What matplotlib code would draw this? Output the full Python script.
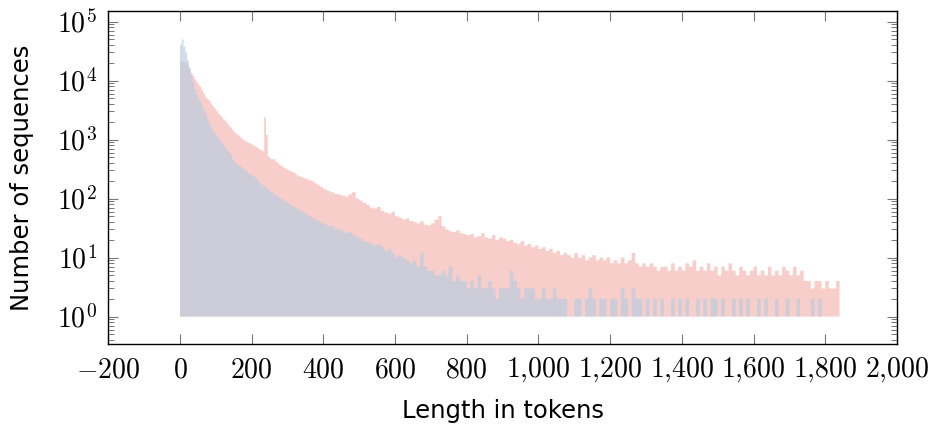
import numpy as np
import matplotlib
matplotlib.use("Agg")
import matplotlib.pyplot as plt
from matplotlib.ticker import FixedLocator, FuncFormatter, LogLocator, NullFormatter

plt.rcParams['mathtext.fontset'] = 'cm'
plt.rcParams['font.family'] = ['DejaVu Sans']
plt.rcParams['path.simplify'] = False

# counts per 5-token bin, 0..400
red_head = [
    21500, 21000, 20500, 20000, 18500, 15500, 13500, 12000, 10500, 9500,
    8600, 7900, 6800, 6000, 5300, 4900, 4600, 4100, 3700, 3400,
    3100, 2800, 2600, 2400, 2200, 2050, 1900, 1750, 1600, 1450,
    1350, 1270, 1190, 1120, 1060, 1000, 950, 910, 880, 850,
    820, 790, 760, 720, 680, 660, 640, 2400, 1200, 520,
    480, 460, 470, 430, 410, 380, 360, 345, 330, 315,
    305, 295, 285, 280, 265, 250, 240, 235, 228, 222,
    218, 212, 205, 200, 195, 185, 175, 168, 160, 155,
]
# counts per 10-token bin, 400..1840
red_tail = [
    145, 135, 128, 120, 118, 112, 108, 118, 128, 100,
    92, 85, 78, 70, 68, 72, 62, 58, 55, 60,
    50, 47, 44, 46, 42, 40, 38, 41, 36, 35,
    38, 44, 50, 34, 30, 28, 27, 29, 26, 25,
    24, 25, 22, 23, 26, 22, 21, 24, 20, 22,
    21, 19, 20, 18, 17, 19, 16, 17, 15, 16,
    14, 15, 13, 14, 12, 13, 11, 12, 11, 10,
    12, 10, 11, 9, 10, 11, 9, 10, 9, 10,
    8, 9, 8, 10, 8, 9, 12, 8, 7, 8,
    7, 8, 7, 6, 7, 7, 6, 8, 6, 7,
    6, 8, 7, 9, 6, 7, 6, 8, 6, 7,
    5, 7, 6, 8, 6, 5, 7, 6, 5, 6,
    7, 5, 6, 5, 7, 5, 6, 5, 7, 6,
    5, 7, 5, 6, 4, 4, 3, 4, 4, 3,
    4, 3, 3, 4,
]

blue_head = [
    40000, 50000, 38000, 30000, 22000, 16500, 12500, 9500, 7200, 5800,
    5000, 4500, 3800, 3200, 2800, 2300, 1900, 1650, 1450, 1300,
    1180, 1050, 970, 880, 800, 730, 670, 610, 560, 470,
    430, 400, 380, 360, 340, 320, 300, 285, 270, 255,
    245, 235, 225, 205, 190, 175, 165, 160, 150, 142,
    135, 128, 120, 115, 110, 105, 100, 96, 92, 88,
    84, 80, 76, 73, 70, 68, 65, 62, 60, 58,
    55, 52, 50, 48, 47, 45, 43, 42, 40, 39,
]
# 10-token bins, 400..1800
blue_tail = [
    37, 34, 35, 31, 30, 28, 26, 27, 24, 22,
    21, 19, 18, 17, 16, 17, 15, 13, 14, 12,
    10, 11, 10, 9, 8, 9, 7, 12, 7, 6,
    6, 5, 5, 6, 5, 7, 4, 5, 4, 4,
    3, 4, 3, 5, 3, 3, 4, 3, 2, 3,
    3, 3, 6, 4, 3, 2, 3, 3, 3, 2,
    2, 3, 2, 2, 3, 2, 2, 2, 1, 1,
    2, 2, 1, 2, 3, 2, 1, 2, 2, 1,
    2, 2, 1, 3, 2, 1, 3, 2, 2, 1,
    2, 1, 2, 1, 2, 1, 1, 2, 1, 2,
    1, 2, 1, 1, 2, 1, 2, 1, 2, 2,
    1, 2, 1, 1, 2, 1, 2, 1, 2, 1,
    1, 2, 1, 2, 1, 1, 2, 1, 1, 2,
    1, 1, 2, 1, 1, 1, 2, 1, 2, 1,
]

x_ticks = list(range(-200, 2001, 200))
y_ticks = [1e0, 1e1, 1e2, 1e3, 1e4, 1e5]


def bins(head, tail):
    counts = np.array(head + tail, dtype=float)
    edges = np.concatenate([np.arange(0, 400, 5),
                            np.arange(400, 400 + 10 * len(tail) + 1, 10)])
    return np.maximum(counts, 1), edges


fig = plt.figure(figsize=(9.31, 4.25), dpi=100)
ax = fig.add_axes([0.1163, 0.1899, 0.8471, 0.7842])

ax.set_yscale('log')
vals, edges = bins(red_head, red_tail)
ax.stairs(vals, edges, baseline=1, fill=True, facecolor=(243/255, 159/255, 151/255),
          alpha=0.5, linewidth=0, snap=False)
vals, edges = bins(blue_head, blue_tail)
ax.stairs(vals, edges, baseline=1, fill=True, facecolor=(184/255, 204/255, 226/255),
          alpha=0.66, linewidth=0, snap=False)

ax.set_xlim(-200, 2000)
ax.set_ylim(10 ** -0.47, 10 ** 5.18)

ax.xaxis.set_major_locator(FixedLocator(x_ticks))
ax.xaxis.set_major_formatter(FuncFormatter(
    lambda v, p: '$' + f'{int(v):,}'.replace(',', '{,}') + '$'))
ax.yaxis.set_major_locator(FixedLocator(y_ticks))
ax.yaxis.set_major_formatter(FuncFormatter(
    lambda v, p: r'$10^{%d}$' % round(np.log10(v))))
ax.yaxis.set_minor_locator(LogLocator(base=10, subs=np.arange(2, 10), numticks=20))
ax.yaxis.set_minor_formatter(NullFormatter())

ax.tick_params(which='both', direction='in', top=True, right=True, color='#777777')
ax.tick_params(which='major', length=7, width=0.8, labelsize=20, pad=8)
ax.tick_params(which='minor', length=4.3, width=0.7)
for s in ax.spines.values():
    s.set_linewidth(1.0)

ax.set_xlabel('Length in tokens', fontsize=17.5)
ax.set_ylabel('Number of sequences', fontsize=17.5)
ax.xaxis.set_label_coords(0.5, -0.165)
ax.yaxis.set_label_coords(-0.1094, 0.5)
ax.yaxis.label.set_va('center')
ax.xaxis.label.set_va('top')

fig.savefig('out.png', dpi=100)
